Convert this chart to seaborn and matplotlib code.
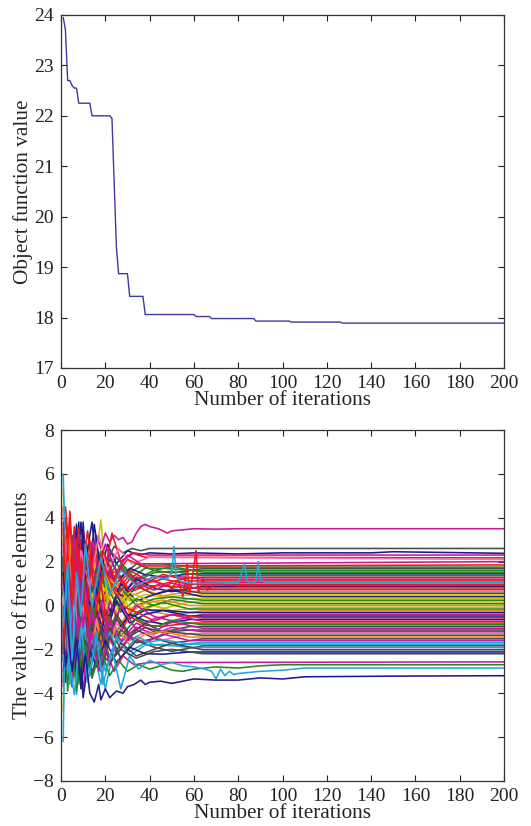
import numpy as np
import pandas as pd
import seaborn as sns
import matplotlib
matplotlib.use("Agg")
import matplotlib.pyplot as plt

# ---- top panel: objective value, as runs of (value, number of iterations)
obj_run_value = [23.95, 23.7, 22.7, 22.6, 22.55, 22.25, 22.0, 21.95, 20.7, 19.4,
                 18.87, 18.42, 18.06, 18.02, 17.98, 17.93, 17.91, 17.89]
obj_run_len = [1, 1, 2, 1, 2, 6, 9, 1, 1, 1, 5, 7, 23, 7, 20, 16, 23, 74]

# ---- bottom panel: free elements
# band lines: 12 early values on grid A / grid B (alternating), one mid value,
# then the final value
GRID_A = [1, 2, 4, 6, 8, 10, 13, 16, 20, 25, 31, 38]
GRID_B = [1, 3, 5, 7, 9, 11, 14, 18, 22, 27, 34, 42]

band_final = [1.75, 1.68, 1.6, 1.52, 1.44, 1.36, 1.28, 1.2, 1.12, 1.04,
              0.96, 0.88, 0.8, 0.72, 0.64, 0.56, 0.48, 0.4, 0.32, 0.24,
              0.16, 0.08, 0.0, -0.08, -0.16, -0.24, -0.32, -0.4, -0.48, -0.56,
              -0.64, -0.72, -0.8, -0.88, -0.96, -1.04, -1.12, -1.2, -1.28, -1.36,
              -1.44, -1.52, -1.6, -1.68, -1.76, -1.84, -1.92, -2.02, -2.12, -2.2]
band_mid = [1.9, 1.48, 1.7, 1.77, 1.29, 1.56, 0.98, 1.35, 1.42, 0.84,
            1.21, 0.63, 0.9, 1.02, 0.44, 0.76, 0.38, 0.7, 0.07, 0.39,
            -0.14, 0.28, 0.25, -0.23, 0.14, -0.44, -0.22, -0.7, -0.23, -0.41,
            -0.84, -0.42, -0.95, -0.68, -1.21, -0.74, -1.22, -1.0, -1.58, -1.21,
            -1.19, -1.72, -1.3, -1.83, -1.56, -2.09, -1.77, -1.72, -2.22, -2.0]
band_color = ["g", "k", "g", "g", "b", "g", "r", "m", "r", "m",
              "r", "b", "r", "m", "o", "k", "y", "b", "y", "g",
              "y", "g", "o", "y", "g", "o", "b", "m", "b", "r",
              "b", "m", "r", "g", "k", "m", "k", "m", "p", "k",
              "o", "k", "m", "c", "c", "k", "c", "k", "b", "k"]
band_early = [
    [0.5, 2.8, -1.2, 2.5, 0.2, 2.9, 0.8, 2.6, 1.2, 2.2, 1.5, 1.9],
    [-1.5, 1.8, 3.2, -0.8, 2.4, 0.5, 2.8, 0.9, 2.1, 1.3, 1.9, 1.6],
    [2.2, -0.5, 1.0, 3.0, -0.2, 2.2, 0.4, 2.4, 1.0, 1.9, 1.2, 1.7],
    [1.0, 3.5, 0.2, -1.5, 2.8, 1.2, -0.4, 2.5, 0.8, 1.9, 1.2, 1.6],
    [-2.5, 0.8, 2.6, 0.0, 3.8, -0.6, 2.0, 0.6, 2.2, 1.0, 1.7, 1.4],
    [3.0, 0.5, -2.0, 2.2, 0.4, 2.9, 1.0, 2.2, 0.6, 1.8, 1.1, 1.5],
    [4.5, -1.0, 4.3, 0.5, 3.0, -0.5, 2.4, 0.2, 2.0, 0.8, 1.6, 1.2],
    [0.0, 2.4, -1.5, 1.8, -0.8, 2.5, 0.0, 2.0, 0.5, 1.7, 1.0, 1.3],
    [2.8, 4.0, 1.0, 3.6, 0.8, 2.2, -0.2, 2.6, 1.8, 0.6, 1.4, 1.0],
    [-1.0, 1.5, -2.8, 1.2, 3.0, 0.2, 2.2, -0.5, 1.8, 0.4, 1.3, 1.1],
    [3.5, 0.0, 2.8, -1.2, 2.0, 1.0, 3.0, 0.5, 1.6, 1.5, 0.7, 1.0],
    [1.5, -2.0, 0.8, 3.7, -0.5, 2.0, 3.8, 0.0, 1.5, 0.4, 1.2, 0.8],
    [2.0, 3.2, -0.8, 2.2, 1.0, 3.4, 0.5, 1.8, 0.2, 1.4, 0.6, 0.9],
    [-3.0, 0.5, 1.8, -1.8, 1.5, -0.5, 2.4, -0.6, 1.5, 0.3, 1.0, 0.7],
    [1.2, -0.8, 2.5, 0.2, 1.0, 2.2, -0.2, 1.4, 0.0, 1.1, 0.4, 0.7],
    [-0.5, 2.6, -1.8, 1.4, -2.2, 1.6, -0.5, 2.0, 0.6, 0.0, 0.9, 0.5],
    [5.3, 1.0, 3.0, -0.5, 2.4, 0.0, 2.6, 0.3, 1.4, 0.9, 0.2, 0.5],
    [-1.8, 1.2, -0.4, 3.2, 0.0, 2.8, -1.0, 1.6, -0.3, 1.0, 0.2, 0.5],
    [0.8, -1.5, 2.0, -0.8, 1.6, -1.2, 1.4, -0.6, 1.5, 0.0, 0.6, 0.3],
    [2.5, 0.0, -2.4, 1.0, -1.0, 2.0, 0.0, 1.8, -0.5, 0.8, 0.0, 0.3],
    [-4.8, -1.0, 1.5, -2.0, 1.2, -0.8, 2.0, -0.2, 0.8, -0.4, 0.4, 0.1],
    [1.8, -2.5, 0.5, 2.0, -1.6, 1.0, -1.2, 1.2, 0.6, -0.3, 0.3, 0.0],
    [-0.8, 1.0, -3.0, 0.5, 2.6, -1.0, 1.0, -1.5, 0.5, 0.6, -0.3, 0.1],
    [3.0, 0.2, 1.8, -1.5, 1.0, -2.2, 0.8, 3.9, -1.2, 0.4, -0.4, 0.0],
    [-2.0, 2.2, -0.5, 2.8, -2.5, 0.5, -1.8, 1.0, -0.8, 0.2, -0.5, -0.1],
    [0.5, -1.2, 2.2, -2.8, 0.0, -1.5, 1.2, -1.0, 0.3, -0.8, 0.1, -0.3],
    [-3.5, 0.0, -2.0, 2.2, -1.2, 3.8, -1.5, 0.8, -1.2, 0.5, -0.6, -0.2],
    [1.0, -2.8, 0.4, -3.7, 0.8, -1.5, 1.5, -2.0, 0.2, -1.0, 0.0, -0.5],
    [2.2, -1.0, -3.2, 0.0, -2.0, 0.6, -3.0, -0.2, -1.4, 0.2, -0.8, -0.4],
    [-1.2, 1.8, -1.0, 2.4, -2.4, 0.0, -1.4, 1.0, -1.6, 0.0, -0.3, -0.7],
    [0.0, -3.5, 1.0, -1.2, 1.8, -3.0, 0.2, -2.6, -0.2, -1.2, -0.4, -0.7],
    [-2.6, 0.6, -3.7, 0.2, -1.6, 1.0, -2.2, 0.2, -1.5, 0.0, -1.1, -0.6],
    [1.5, -0.5, 2.0, -2.0, 0.4, -2.8, 0.0, -1.8, -0.2, -1.5, -0.5, -0.9],
    [-0.5, -3.9, 0.5, -2.5, -0.5, -3.3, 0.2, -2.0, -0.5, -1.4, -0.6, -1.0],
    [2.0, -1.5, -0.2, -3.0, 1.0, -2.0, -3.0, -0.5, -1.8, -0.4, -1.3, -0.8],
    [-3.7, -1.0, 1.2, -2.4, 0.0, -2.0, -0.4, -2.5, -0.6, -1.6, -0.8, -1.2],
    [0.5, 2.0, -2.2, 0.0, -3.0, -0.8, -2.4, -0.4, -1.9, -0.6, -1.4, -1.0],
    [-1.5, -3.0, 0.0, -3.2, -1.0, -2.6, -0.2, -2.0, -0.8, -1.7, -1.0, -1.3],
    [1.0, -1.0, -2.6, 0.8, -2.0, 0.0, -3.0, -0.6, -2.2, -0.8, -1.6, -1.2],
    [-2.2, 0.5, -1.5, -3.5, 0.0, -2.4, -0.8, -2.8, -1.0, -2.0, -1.1, -1.5],
    [0.0, -2.0, 1.5, -1.8, -3.6, -1.0, -2.0, -0.8, -2.2, -1.0, -1.8, -1.3],
    [-1.0, 1.5, -2.5, -0.8, -2.8, -1.2, -3.3, -1.0, -2.4, -1.1, -1.7, -1.5],
    [2.8, -0.5, -3.0, 0.0, -2.2, -3.8, -1.2, -2.6, -1.0, -2.2, -1.4, -1.7],
    [-1.8, -3.0, 0.2, -4.06, -1.0, -2.8, -1.5, -3.6, -1.2, -2.4, -1.4, -1.8],
    [-6.2, 1.0, -2.0, -0.8, -3.5, -1.5, -2.8, -1.2, -3.0, -1.5, -2.1, -1.7],
    [0.5, -2.2, -1.0, -3.2, -1.5, -2.6, -1.8, -3.0, -1.4, -2.4, -1.6, -1.9],
    [-2.5, 0.8, -3.6, -1.2, -2.6, -0.6, -3.2, -1.6, -3.8, -1.4, -2.3, -1.8],
    [1.8, -1.5, -2.8, -1.0, -3.4, -1.6, -2.4, -1.2, -2.7, -1.7, -2.3, -2.0],
    [-0.8, -2.8, -1.2, -3.0, -1.6, -4.2, -2.0, -2.8, -1.6, -2.6, -1.9, -2.2],
    [-2.0, 0.0, -3.4, -1.4, -2.8, -1.8, -3.0, -2.2, -2.6, -2.0, -2.4, -2.1],
]

# separate lines (outside the band), each with its own iterations
extra_color = ["m", "k", "b", "m", "r", "p", "m", "r", "m", "g", "c", "b", "r", "c"]
extra_iters = [
    [1, 2, 4, 6, 8, 10, 13, 16, 18, 20, 22, 24, 26, 28, 30, 32, 34, 36, 38, 40,
     42, 44, 46, 48, 50, 55, 60, 70, 80, 200],
    [1, 3, 5, 8, 11, 14, 17, 20, 24, 28, 32, 36, 40, 200],
    [1, 3, 6, 9, 12, 15, 18, 21, 25, 30, 35, 40, 50, 60, 80, 100, 140, 150, 200],
    [1, 4, 7, 10, 14, 18, 22, 27, 33, 40, 200],
    [2, 5, 8, 11, 15, 19, 23, 27, 32, 38, 200],
    [1, 3, 6, 9, 13, 17, 21, 26, 32, 40, 200],
    [2, 4, 6, 9, 12, 16, 20, 25, 30, 36, 200],
    [1, 3, 5, 7, 9, 12, 15, 19, 24, 30, 37, 200],
    [1, 3, 5, 8, 11, 14, 17, 20, 24, 28, 33, 40, 200],
    [1, 4, 7, 10, 14, 18, 22, 26, 30, 35, 40, 45, 50, 55, 60, 70, 80, 90, 100, 200],
    [1, 3, 6, 9, 12, 16, 19, 23, 27, 31, 35, 40, 45, 50, 55, 60, 65, 68, 70, 72,
     74, 76, 78, 80, 85, 90, 100, 110, 200],
    [1, 3, 5, 7, 9, 11, 13, 15, 17, 18, 20, 22, 25, 28, 30, 33, 36, 38, 40, 45,
     50, 55, 60, 70, 80, 90, 100, 110, 150, 200],
    [1, 2, 4, 6, 8, 10, 13, 16, 20, 25, 31, 38, 45, 50, 53, 55, 57, 58, 59, 61,
     62, 64, 66, 70, 80, 200],
    [1, 3, 5, 7, 9, 11, 14, 18, 22, 27, 34, 42, 48, 50, 51, 52, 54, 60, 80, 83,
     84, 86, 88, 89, 90, 92, 100, 200],
]
extra_values = [
    [-1.5, 2.5, -0.8, 3.0, 0.5, 2.8, 1.2, 3.2, 2.6, 3.3, 2.9, 3.2, 3.0, 3.1, 2.8,
     2.9, 3.3, 3.6, 3.7, 3.6, 3.55, 3.5, 3.4, 3.3, 3.4, 3.45, 3.5, 3.48, 3.5, 3.5],
    [0.8, -1.8, 2.4, -0.5, 2.8, 0.6, 2.2, 1.8, 2.7, 2.4, 2.6, 2.5, 2.6, 2.6],
    [-2.0, 1.5, -0.5, 3.8, 0.2, 3.7, 1.5, 2.8, 1.9, 2.5, 2.3, 2.4, 2.35, 2.4,
     2.35, 2.4, 2.4, 2.45, 2.38],
    [1.2, -2.5, 2.0, -1.0, 2.9, 1.0, 2.5, 2.0, 2.4, 2.3, 2.3],
    [4.5, 1.0, 3.5, -0.5, 2.6, 1.2, 3.3, 2.0, 2.4, 2.2, 2.17],
    [0.0, 3.0, -0.5, 2.5, 0.8, 3.2, 1.6, 2.6, 1.9, 2.2, 2.1],
    [1.8, -1.0, 3.3, 0.4, 2.4, 1.2, 2.8, 1.5, 2.3, 1.9, 2.0],
    [-2.2, 2.5, 0.0, 3.0, 1.2, 3.4, 0.8, 2.5, 1.3, 2.1, 1.8, 1.85],
    [-1.0, 1.5, -3.7, -0.5, -3.2, -1.2, -3.0, -2.0, -3.0, -2.3, -2.7, -2.6, -2.57],
    [2.0, -1.0, -3.9, -1.5, -3.3, -2.0, -3.2, -2.5, -3.0, -2.7, -2.9, -2.75, -2.95,
     -3.0, -2.9, -2.8, -2.85, -2.75, -2.7, -2.7],
    [6.0, -2.0, -4.06, -1.0, -3.5, -1.5, -3.6, -2.0, -3.8, -2.3, -2.9, -2.5, -2.7,
     -2.6, -2.75, -2.8, -2.9, -3.0, -3.35, -2.9, -3.2, -3.0, -3.15, -3.1, -3.05,
     -3.0, -2.95, -2.85, -2.85],
    [1.5, -1.0, -3.0, -1.5, -3.8, -2.2, -4.0, -4.4, -3.6, -4.3, -3.8, -4.2, -3.9,
     -4.0, -3.7, -3.6, -3.4, -3.6, -3.5, -3.45, -3.55, -3.45, -3.35, -3.4, -3.4,
     -3.3, -3.35, -3.25, -3.22, -3.2],
    [3.8, 1.0, 4.2, 0.0, 2.6, 0.4, 2.0, 0.2, 1.6, 0.4, 1.2, 0.7, 1.0, 0.8, 1.2,
     0.4, 1.9, 0.5, 1.1, 2.5, 0.6, 1.2, 0.7, 1.0, 0.9, 0.92],
    [-1.0, 2.0, -2.5, 1.5, -0.5, 2.8, 0.0, 2.2, 0.5, 1.6, 0.9, 1.3, 1.2, 1.5, 2.7,
     1.3, 1.1, 1.0, 1.05, 1.9, 1.1, 1.0, 1.1, 2.0, 1.2, 1.05, 1.05, 1.05],
]

COLORS = {"b": "#1c1c8c", "g": "#1e8a1e", "r": "#f01818", "c": "#22a6de",
          "m": "#c21a9e", "y": "#d2c000", "k": "#4a4a4a", "o": "#f08a1a",
          "p": "#f070b0"}

# build long tables
obj_df = pd.DataFrame({
    "iteration": np.arange(1, sum(obj_run_len) + 1),
    "value": np.repeat(obj_run_value, obj_run_len),
})

rows = []
palette = []
line_id = 0
for i, (f, m, early) in enumerate(zip(band_final, band_mid, band_early)):
    if i % 2 == 0:
        its = GRID_A + [46, 58, 200]
    else:
        its = GRID_B + [50, 64, 200]
    vals = early + [m, f, f]
    for x, v in zip(its, vals):
        rows.append((line_id, x, v))
    palette.append(COLORS[band_color[i]])
    line_id += 1
for its, vals, c in zip(extra_iters, extra_values, extra_color):
    for x, v in zip(its, vals):
        rows.append((line_id, x, v))
    palette.append(COLORS[c])
    line_id += 1
free_df = pd.DataFrame(rows, columns=["line", "iteration", "value"])

sns.set_style("ticks")
plt.rcParams["font.family"] = ["Liberation Serif", "DejaVu Serif"]
plt.rcParams["axes.unicode_minus"] = True

fig = plt.figure(figsize=(5.31, 8.26), dpi=100)
ax1 = fig.add_axes([0.1149, 0.5545, 0.8343, 0.4274])
ax2 = fig.add_axes([0.1149, 0.0545, 0.8343, 0.4249])

sns.lineplot(data=obj_df, x="iteration", y="value", color="#3a3aa0",
             linewidth=1.0, ax=ax1)
sns.lineplot(data=free_df, x="iteration", y="value", hue="line",
             palette=palette, estimator=None, sort=False, legend=False,
             linewidth=1.15, ax=ax2)

for ax in (ax1, ax2):
    ax.set_xlim(0, 200)
    ax.set_xticks(np.arange(0, 201, 20))
    ax.tick_params(direction="in", top=True, right=True, length=4, width=0.8,
                   labelsize=14, pad=5, colors="#222222")
    for s in ax.spines.values():
        s.set_color("#333333")
        s.set_linewidth(0.9)
    ax.set_xlabel("Number of iterations", fontsize=15.3, labelpad=-1)

ax1.set_ylim(17, 24)
ax1.set_yticks(np.arange(17, 25, 1))
ax1.set_ylabel("Object function value", fontsize=15.3, labelpad=1)

ax2.set_ylim(-8, 8)
ax2.set_yticks(np.arange(-8, 9, 2))
ax2.set_ylabel("The value of free elements", fontsize=15.3, labelpad=1)

fig.savefig("out.png", dpi=100)
